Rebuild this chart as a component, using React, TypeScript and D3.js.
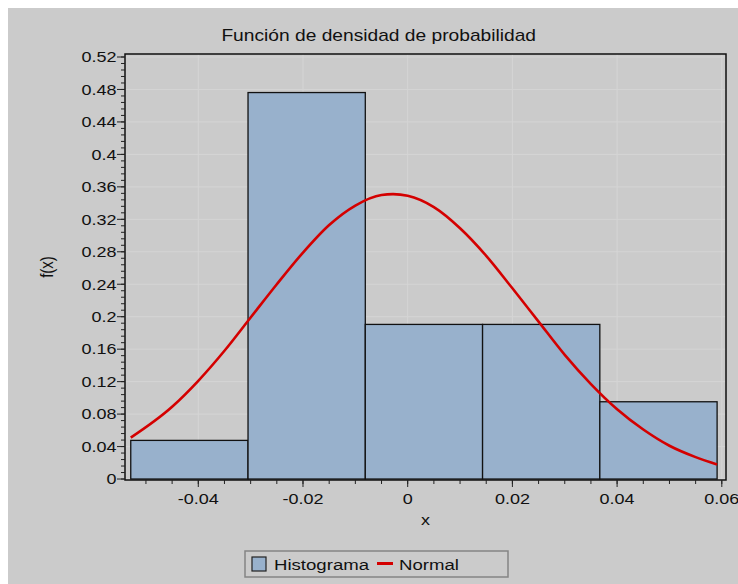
import React from "react";
import * as d3 from "d3";

const binEdges = [-0.0529, -0.0305, -0.0081, 0.0143, 0.0367, 0.0591];
const binHeights = [0.0476, 0.4762, 0.1905, 0.1905, 0.0952];

const normalX = [-0.0529, -0.045, -0.04, -0.035, -0.03, -0.025, -0.02, -0.015, -0.01, -0.005, -0.0028, 0, 0.005, 0.01, 0.015, 0.02, 0.025, 0.03, 0.035, 0.04, 0.045, 0.05, 0.055, 0.0591];
const normalY = [0.051, 0.089, 0.121, 0.158, 0.199, 0.24, 0.279, 0.313, 0.337, 0.35, 0.351, 0.349, 0.335, 0.309, 0.275, 0.235, 0.194, 0.153, 0.117, 0.086, 0.061, 0.041, 0.027, 0.018];

const xTickValues = [-0.04, -0.02, 0, 0.02, 0.04, 0.06];
const xTickLabels = ["-0.04", "-0.02", "0", "0.02", "0.04", "0.06"];
const yTickValues = [0, 0.04, 0.08, 0.12, 0.16, 0.2, 0.24, 0.28, 0.32, 0.36, 0.4, 0.44, 0.48, 0.52];
const yTickLabels = ["0", "0.04", "0.08", "0.12", "0.16", "0.2", "0.24", "0.28", "0.32", "0.36", "0.4", "0.44", "0.48", "0.52"];

const title = "Función de densidad de probabilidad";
const xLabel = "x";
const yLabel = "f(x)";
const legendLabels = ["Histograma", "Normal"];

const W = 738, H = 584;
const L = 125, R = 726, T = 54, B = 480;
const FONT = "'Liberation Sans', Arial, sans-serif";
const SX = 1.2;
const BG = "#cbcbcb";
const GRID = "#d5d5d5";
const BAR = "#98b1cc";
const RED = "#d40000";

export default function App() {
  const x = d3.scaleLinear().domain([-0.054, 0.0608]).range([L, R]);
  const y = d3.scaleLinear().domain([-0.0012, 0.5237]).range([B, T]);

  const line = d3
    .line<number>()
    .x((_, i) => x(normalX[i]))
    .y((d) => y(d))
    .curve(d3.curveMonotoneX);

  const yMinor = d3.range(0, 0.5237, 0.008);
  const xMinor = d3.range(-0.05, 0.0608, 0.005);

  return (
    <svg
      width={W}
      height={H}
      style={{ position: "fixed", left: 0, top: 0, display: "block" }}
      fontFamily={FONT}
    >
      <rect x={0} y={0} width={W} height={H} fill="#ffffff" />
      <rect x={8} y={8} width={W - 8} height={H - 8} fill={BG} />
      {/* grid */}
      {xTickValues.map((v) => (
        <line key={"gx" + v} x1={x(v)} x2={x(v)} y1={T} y2={B} stroke={GRID} strokeWidth={1} />
      ))}
      {yTickValues.map((v) => (
        <line key={"gy" + v} x1={L} x2={R} y1={y(v)} y2={y(v)} stroke={GRID} strokeWidth={1} />
      ))}
      {/* bars */}
      {binHeights.map((h, i) => (
        <rect
          key={"b" + i}
          x={x(binEdges[i])}
          y={y(h)}
          width={x(binEdges[i + 1]) - x(binEdges[i])}
          height={y(0) - y(h)}
          fill={BAR}
          stroke="#111"
          strokeWidth={1.3}
        />
      ))}
      {/* normal curve */}
      <path d={line(normalY) || ""} fill="none" stroke={RED} strokeWidth={2.6} strokeLinejoin="round" />
      {/* frame */}
      <rect x={L} y={T} width={R - L} height={B - T} fill="none" stroke="#111" strokeWidth={1.5} />
      {/* y ticks */}
      {yMinor.map((v, i) => (
        <line key={"ym" + i} x1={L - 4} x2={L} y1={y(v)} y2={y(v)} stroke="#222" strokeWidth={1} />
      ))}
      {yTickValues.map((v, i) => (
        <g key={"yt" + i}>
          <line x1={L - 8} x2={L} y1={y(v)} y2={y(v)} stroke="#222" strokeWidth={1} />
          <text
            transform={`translate(${L - 8.5},${y(v) + 5.3}) scale(${SX},1)`}
            textAnchor="end"
            fontSize={15}
            fill="#111"
          >
            {yTickLabels[i]}
          </text>
        </g>
      ))}
      {/* x ticks */}
      {xMinor.map((v, i) => (
        <line key={"xm" + i} x1={x(v)} x2={x(v)} y1={B} y2={B + 4} stroke="#222" strokeWidth={1} />
      ))}
      {xTickValues.map((v, i) => (
        <g key={"xt" + i}>
          <line x1={x(v)} x2={x(v)} y1={B} y2={B + 7} stroke="#222" strokeWidth={1} />
          <text
            transform={`translate(${x(v)},${503.5}) scale(${SX},1)`}
            textAnchor="middle"
            fontSize={15}
            fill="#111"
          >
            {xTickLabels[i]}
          </text>
        </g>
      ))}
      {/* title */}
      <text transform={`translate(378.7,40.7) scale(${SX},1)`} textAnchor="middle" fontSize={16} fill="#111">
        {title}
      </text>
      {/* axis labels */}
      <text transform={`translate(${(L + R) / 2},525) scale(${SX},1)`} textAnchor="middle" fontSize={15} fill="#111">
        {xLabel}
      </text>
      <text transform={`translate(53,${(T + B) / 2}) rotate(-90) scale(1,${SX})`} textAnchor="middle" fontSize={15} fill="#111">
        {yLabel}
      </text>
      {/* legend */}
      <rect x={245} y={551} width={263} height={26} fill={BG} stroke="#858585" strokeWidth={1.5} />
      <rect x={252} y={557} width={14} height={14} fill={BAR} stroke="#222" strokeWidth={1.2} />
      <text transform={`translate(274,569.5) scale(${SX},1)`} fontSize={15.5} fill="#111">
        {legendLabels[0]}
      </text>
      <line x1={377} x2={393} y1={563.5} y2={563.5} stroke={RED} strokeWidth={3} />
      <text transform={`translate(399,569.5) scale(${SX},1)`} fontSize={15.5} fill="#111">
        {legendLabels[1]}
      </text>
    </svg>
  );
}
